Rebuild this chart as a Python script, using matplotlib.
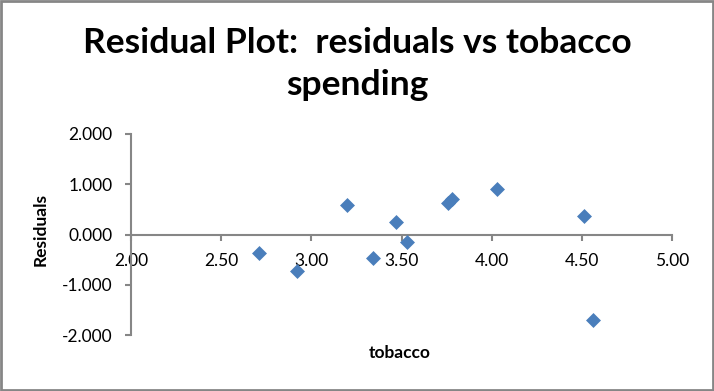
import matplotlib
matplotlib.use("Agg")
from matplotlib import pyplot as plt
from matplotlib.patches import Rectangle

# residuals
tobacco = [2.71, 2.92, 3.20, 3.34, 3.47, 3.53, 3.76, 3.78, 4.03, 4.51, 4.56]
residuals = [-0.37, -0.72, 0.58, -0.47, 0.24, -0.14, 0.63, 0.70, 0.90, 0.36, -1.70]

x_ticks = [2.00, 2.50, 3.00, 3.50, 4.00, 4.50, 5.00]
y_ticks = [-2.0, -1.0, 0.0, 1.0, 2.0]

plt.rcParams['font.family'] = ['Lato', 'DejaVu Sans']
grey = '#868686'

fig = plt.figure(figsize=(7.14, 3.91), dpi=100)
ax = fig.add_axes([0.1835, 0.1432, 0.9412 - 0.1835, 0.6573 - 0.1432])

ax.scatter(tobacco, residuals, marker='D', s=58, color='#4A7EBB', zorder=3, linewidths=0)

ax.set_xlim(2.0, 5.0)
ax.set_ylim(-2.0, 2.0)
ax.set_xticks(x_ticks)
ax.set_xticklabels(['%.2f' % v for v in x_ticks])
ax.set_yticks(y_ticks)
ax.set_yticklabels(['%.3f' % v for v in y_ticks])

# x axis crosses at zero like in excel
ax.spines['bottom'].set_position(('data', 0))
ax.spines['top'].set_visible(False)
ax.spines['right'].set_visible(False)
for s in ['bottom', 'left']:
    ax.spines[s].set_color(grey)
    ax.spines[s].set_linewidth(1.5)
ax.tick_params(axis='both', colors=grey, length=4.5, width=1.5, labelsize=12.5, labelcolor='black')
ax.tick_params(axis='y', pad=9)
ax.tick_params(axis='x', pad=9)

fig.text(0.5, 1 - 27 / 391, 'Residual Plot:  residuals vs tobacco\nspending', ha='center', va='top',
         fontsize=25.5, fontweight='bold', linespacing=1.38)
fig.text(400 / 714, 1 - 358 / 391, 'tobacco', ha='center', va='baseline', fontsize=12.5, fontweight='bold')
fig.text(41 / 714, 1 - 229 / 391, 'Residuals', ha='center', va='center', rotation=90,
         fontsize=12.5, fontweight='bold')

# chart border
fig.patches.append(Rectangle((0.0015, 0.003), 0.997, 0.994, transform=fig.transFigure,
                             fill=False, edgecolor=grey, linewidth=2))

plt.savefig('out.png', dpi=100)
